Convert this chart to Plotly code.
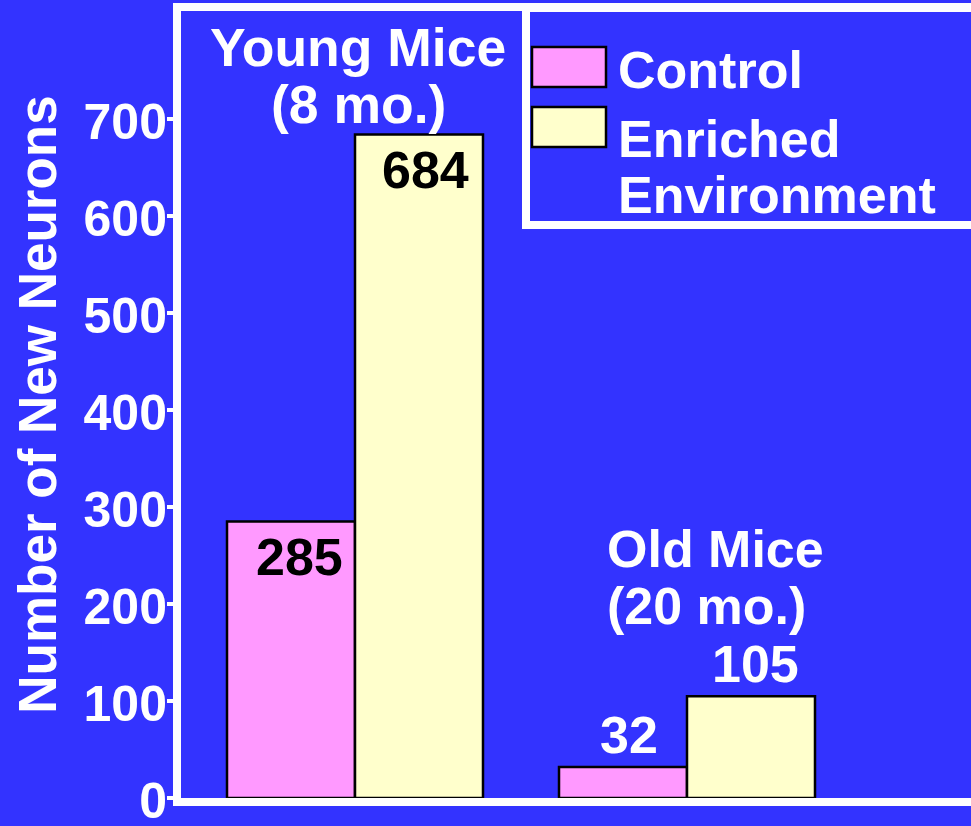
import plotly.graph_objects as go

# data
groups = ["Young Mice", "Old Mice"]
group_ages = ["(8 mo.)", "(20 mo.)"]
series_names = ["Control", "Enriched Environment"]
control = [285, 32]
enriched = [684, 105]
y_ticks = [0, 100, 200, 300, 400, 500, 600, 700]

BG = "#3333FF"
PINK = "#FF99FF"
YELLOW = "#FFFFCC"
FONT = "Liberation Sans, Arial, sans-serif"

W, H = 971, 826
L, T, B_PX = 181, 11, 798
PW, PH = W - L, B_PX - T
Y_MAX = PH / 0.97


def px_x(p):
    return (p - L) / PW


def px_y(p):
    return (B_PX - p) / PH


fig = go.Figure()
series = [control, enriched]
colors = [PINK, YELLOW]
for name, vals, col in zip(series_names, series, colors):
    fig.add_trace(go.Bar(
        x=groups, y=vals, name=name, marker_color=col,
        marker_line_color="black", marker_line_width=2.5, showlegend=False,
    ))

# value labels: inside (black, right-aligned) for tall bars, above (white) for short ones
bar_px = 63
for si, vals in enumerate(series):
    offset = -bar_px if si == 0 else bar_px
    for gi, v in enumerate(vals):
        if v > 200:
            fig.add_annotation(x=groups[gi], y=v, xref="x", yref="y", text=str(v),
                               showarrow=False, xanchor="right", yanchor="top",
                               xshift=offset + bar_px - 10, yshift=-4,
                               font=dict(color="black", size=52))
        else:
            fig.add_annotation(x=groups[gi], y=v, xref="x", yref="y", text=str(v),
                               showarrow=False, xanchor="center", yanchor="bottom",
                               xshift=offset + 5, yshift=1,
                               font=dict(color="white", size=52))

# group labels
fig.add_annotation(x=px_x(357.5), y=px_y(48), xref="paper", yref="paper", text=groups[0],
                   showarrow=False, xanchor="center", yanchor="middle", font=dict(size=53.5))
fig.add_annotation(x=px_x(358), y=px_y(105), xref="paper", yref="paper", text=group_ages[0],
                   showarrow=False, xanchor="center", yanchor="middle", font=dict(size=53.5))
fig.add_annotation(x=px_x(605), y=px_y(549), xref="paper", yref="paper", text=groups[1],
                   showarrow=False, xanchor="left", yanchor="middle")
fig.add_annotation(x=px_x(605), y=px_y(606), xref="paper", yref="paper", text=group_ages[1],
                   showarrow=False, xanchor="left", yanchor="middle")

# hand-made legend box
fig.add_shape(type="rect", xref="paper", yref="paper",
              x0=px_x(526), x1=1.05, y0=px_y(225), y1=px_y(8),
              line=dict(color="white", width=8), fillcolor=BG, layer="above")
sw_top = [47, 107]
text_y = [[70], [139.5, 194.5]]
for i, name in enumerate(series_names):
    fig.add_shape(type="rect", xref="paper", yref="paper",
                  x0=px_x(532), x1=px_x(606), y0=px_y(sw_top[i] + 40), y1=px_y(sw_top[i]),
                  line=dict(color="black", width=2.5), fillcolor=colors[i], layer="above")
    for line, yy in zip(name.split(" "), text_y[i]):
        fig.add_annotation(x=px_x(616), y=px_y(yy), xref="paper", yref="paper", text=line,
                           showarrow=False, xanchor="left", yanchor="middle")

fig.update_layout(
    width=W, height=H,
    margin=dict(l=L, r=0, t=T, b=H - B_PX),
    paper_bgcolor=BG, plot_bgcolor=BG,
    font=dict(family=FONT, size=52, color="white", weight=700),
    barmode="group", bargap=0.229, bargroupgap=0,
    # second copy of the value axis, only to let the tick marks cross the axis line
    yaxis2=dict(overlaying="y", side="left", range=[0, Y_MAX], tickvals=y_ticks,
                ticks="inside", ticklen=5, tickwidth=4, tickcolor="white",
                showticklabels=False, showgrid=False, zeroline=False, showline=False,
                automargin=False),
)
fig.update_xaxes(
    type="category", range=[(L - 355) / 332, (W - 355) / 332], automargin=False,
    showticklabels=False, ticks="", showgrid=False,
    showline=True, linecolor="white", linewidth=8, mirror=True,
)
fig.update_yaxes(
    selector=dict(overlaying=None),
    range=[0, Y_MAX], tickvals=y_ticks, showgrid=False, zeroline=False, automargin=False,
    ticks="outside", ticklen=6, tickwidth=4, tickcolor="white",
    tickfont=dict(size=50, color="white"), ticklabeloverflow="allow",
    ticklabelstandoff=-10, ticklabelshift=2,
    showline=True, linecolor="white", linewidth=8, mirror=True,
    title=dict(text="Number of New Neurons", font=dict(size=53, color="white"), standoff=13),
)

# drop the browser's default page margin so the figure fills the window
fig.write_html("out.html", config={"displayModeBar": False},
               post_script="document.body.style.margin='0';")
